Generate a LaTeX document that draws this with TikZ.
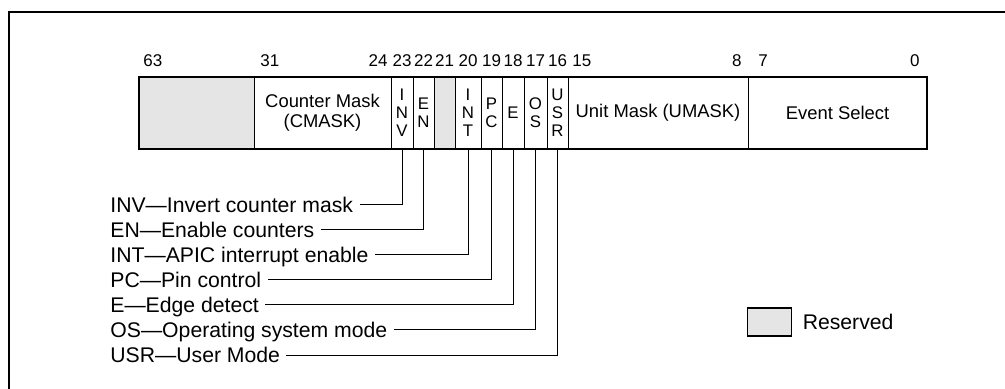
\documentclass[tikz,border=0pt]{standalone}
\usepackage{fontspec}
\setmainfont{Liberation Sans}
\usetikzlibrary{positioning}
\tikzset{
  fld/.style    ={draw, rectangle, line width=0.5pt, inner sep=0pt, outer sep=0pt, minimum height=36pt, align=center, font=\fontsize{9.2}{10}\selectfont},
  rsv/.style    ={fld, fill=gray!20},
  bitfld/.style ={fld, font=\fontsize{8.4}{9}\selectfont},
  bitno/.style  ={inner sep=0pt, font=\fontsize{8.5}{10}\selectfont},
  lbl/.style    ={anchor=west, inner xsep=3pt, inner ysep=0pt, text height=7.6pt, text depth=0pt, font=\fontsize{10.6}{12}\selectfont},
  lead/.style   ={line width=0.5pt},
  key/.style    ={draw, fill=gray!20, line width=0.6pt, minimum width=22.25pt, minimum height=14pt, inner sep=0pt},
}

\begin{document}
\begin{tikzpicture}[x=0.5pt, y=-0.5pt]
  \useasboundingbox (0,0) rectangle (1005,389);
  \draw[line width=1.2pt] (9,12) rectangle (1040,420);

  % register fields, bit 63 down to bit 0
  \node[rsv, minimum width=57.5pt] (res63) at (196.5,113) {};
  \node[fld, minimum width=68.5pt, right=0pt of res63] (cmask) {Counter Mask\\(CMASK)};
  \node[bitfld, minimum width=11pt, right=0pt of cmask] (inv) {I\\N\\V};
  \node[bitfld, minimum width=10.5pt, right=0pt of inv] (en) {E\\N};
  \node[rsv, minimum width=10.5pt, right=0pt of en] (res21) {};
  \node[bitfld, minimum width=13pt, right=0pt of res21] (int) {I\\N\\T};
  \node[bitfld, minimum width=10.5pt, right=0pt of int] (pc) {P\\C};
  \node[bitfld, minimum width=11pt, right=0pt of pc] (e) {E};
  \node[bitfld, minimum width=11.5pt, right=0pt of e] (os) {O\\S};
  \node[bitfld, minimum width=10.5pt, right=0pt of os] (usr) {U\\S\\R};
  \node[fld, minimum width=90pt, right=0pt of usr] (umask) {Unit Mask (UMASK)};
  \node[fld, minimum width=89.5pt, right=0pt of umask] (evsel) {Event Select};
  \draw[line width=1.1pt] (res63.north west) rectangle (evsel.south east);

  % bit numbers
  \node[bitno, anchor=base west] (b63) at ([shift={(2pt,5pt)}]res63.north west) {63};
  \node[bitno, anchor=base west] (b31) at ([shift={(3pt,5pt)}]cmask.north west) {31};
  \node[bitno, anchor=base east] (b24) at ([shift={(-1.5pt,5pt)}]cmask.north east) {24};
  \node[bitno, anchor=base] (b23) at ([yshift=5pt]inv.north) {23};
  \node[bitno, anchor=base] (b22) at ([yshift=5pt]en.north) {22};
  \node[bitno, anchor=base] (b21) at ([yshift=5pt]res21.north) {21};
  \node[bitno, anchor=base] (b20) at ([yshift=5pt]int.north) {20};
  \node[bitno, anchor=base] (b19) at ([yshift=5pt]pc.north) {19};
  \node[bitno, anchor=base] (b18) at ([yshift=5pt]e.north) {18};
  \node[bitno, anchor=base] (b17) at ([yshift=5pt]os.north) {17};
  \node[bitno, anchor=base] (b16) at ([yshift=5pt]usr.north) {16};
  \node[bitno, anchor=base west] (b15) at ([shift={(2pt,5pt)}]umask.north west) {15};
  \node[bitno, anchor=base east] (b8) at ([shift={(-3pt,5pt)}]umask.north east) {8};
  \node[bitno, anchor=base west] (b7) at ([shift={(5pt,5pt)}]evsel.north west) {7};
  \node[bitno, anchor=base east] (b0) at ([shift={(-3.5pt,5pt)}]evsel.north east) {0};

  % flag descriptions
  \node[lbl] (l-inv) at (104,205) {INV---Invert counter mask};
  \node[lbl] (l-en)  at (104,230) {EN---Enable counters\hspace{4pt}};
  \node[lbl] (l-int) at (104,255) {INT---APIC interrupt enable};
  \node[lbl] (l-pc)  at (104,280) {PC---Pin control};
  \node[lbl] (l-e)   at (104,305) {E---Edge detect};
  \node[lbl] (l-os)  at (104,330) {OS---Operating system mode};
  \node[lbl] (l-usr) at (104,355) {USR---User Mode};

  \draw[lead] (inv.south) |- (l-inv.east);
  \draw[lead] (en.south)  |- (l-en.east);
  \draw[lead] (int.south) |- (l-int.east);
  \draw[lead] (pc.south)  |- (l-pc.east);
  \draw[lead] (e.south)   |- (l-e.east);
  \draw[lead] (os.south)  |- (l-os.east);
  \draw[lead] (usr.south) |- (l-usr.east);

  % legend
  \node[key] (rkey) at (769.5,322) {};
  \node[lbl, right=2pt of rkey] (rtxt) {Reserved};
\end{tikzpicture}
\end{document}
